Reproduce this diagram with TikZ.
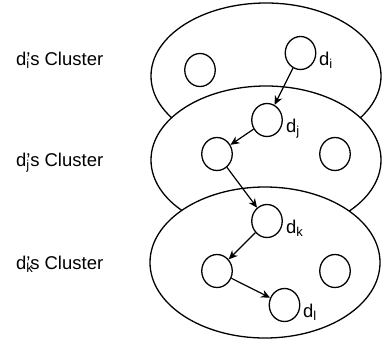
\documentclass[tikz,border=0pt]{standalone}
\usepackage{fontspec}
\setmainfont{Liberation Sans}
\usetikzlibrary{shapes.geometric,arrows.meta}
\tikzset{
  cluster/.style={ellipse, draw, fill=white, line width=1.3pt, inner sep=0pt},
  doc/.style={ellipse, draw, fill=white, line width=1.3pt, inner sep=0pt, minimum width=30.5pt, minimum height=33pt},
  lbl/.style={anchor=base west, inner sep=0pt, font=\fontsize{18.5}{22}\selectfont},
  link/.style={line width=1.2pt, -{Stealth[length=9pt,width=8pt]}}
}
\begin{document}
\begin{tikzpicture}[x=1pt,y=-1pt]
\useasboundingbox (0,0) rectangle (382,343);
% clusters
\node[cluster, minimum width=230pt, minimum height=146pt] (ci) at (266,76) {};
\node[cluster, minimum width=230pt, minimum height=148pt] (cj) at (266,160) {};
\node[cluster, minimum width=230pt, minimum height=151pt] (ck) at (265,262.5) {};
% documents
\node[doc] (a1) at (200,70) {};
\node[doc] (di) at (300.5,53) {};
\node[doc] (dj) at (267,120) {};
\node[doc] (b1) at (217,154) {};
\node[doc] (b2) at (335,154) {};
\node[doc] (dk) at (267,221) {};
\node[doc] (c1) at (217,271) {};
\node[doc] (c2) at (335,271) {};
\node[doc] (dl) at (284.5,305) {};
% doc labels
\node[lbl] (ldi) at (319,65) {d\textsubscript{i}};
\node[lbl] (ldj) at (286,132) {d\textsubscript{j}};
\node[lbl] (ldk) at (286,233) {d\textsubscript{k}};
\node[lbl] (ldl) at (303,317) {d\textsubscript{l}};
% cluster labels
\node[lbl] (li) at (16,65) {d\rlap{\textsubscript{i}}’s Cluster};
\node[lbl] (lj) at (16,166) {d\rlap{\textsubscript{j}}’s Cluster};
\node[lbl] (lk) at (16,269) {d\rlap{\textsubscript{k}}’s Cluster};
% links
\draw[link] (di) -- (dj);
\draw[link] (dj) -- (b1);
\draw[link] (b1) -- (dk);
\draw[link] (dk) -- (c1);
\draw[link] (c1) -- (dl);
\end{tikzpicture}
\end{document}
